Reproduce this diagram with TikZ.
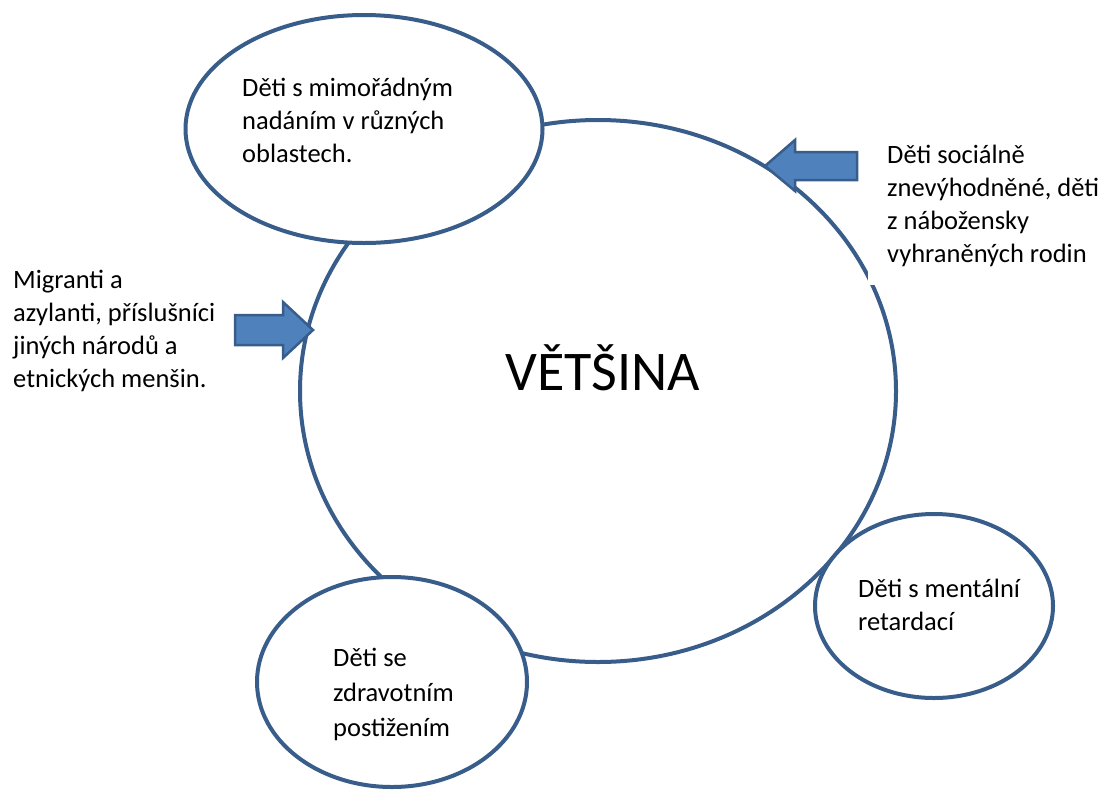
\documentclass[tikz,border=0pt]{standalone}
\usepackage{fontspec}
\setmainfont{Carlito}
\usetikzlibrary{shapes.geometric}
\definecolor{ringblue}{HTML}{385D8A}
\definecolor{arrowblue}{HTML}{4F81BD}
\begin{document}
\begin{tikzpicture}[x=1pt,y=-1pt,
  ring/.style={ellipse, draw=ringblue, line width=4pt, fill=white, inner sep=0pt},
  blockarrow/.style={draw=ringblue, line width=2.5pt, fill=arrowblue, line join=miter},
  lbl/.style={font=\fontsize{26.5}{33}\selectfont, align=left, inner sep=0pt, anchor=base west, text=black}]
\useasboundingbox (0,0) rectangle (1102,790);
\node[ring, minimum width=596pt, minimum height=542pt] (major) at (598,391) {};
\node[ring, minimum width=357pt, minimum height=228pt] (gifted) at (364,129) {};
\node[ring, minimum width=270pt, minimum height=210pt] (health) at (392,682) {};
\node[ring, minimum width=238pt, minimum height=184pt] (mental) at (934,606) {};
\node[font=\fontsize{56}{60}\selectfont, anchor=base, inner sep=0pt] (vetsina) at (603,390) {VĚTŠINA};
\draw[blockarrow] (857,152) -- (795,152) -- (795,140) -- (765,166) -- (795,191) -- (795,180) -- (857,180) -- cycle;
\draw[blockarrow] (235,315) -- (283,315) -- (283,302) -- (313,330) -- (283,358) -- (283,345) -- (235,345) -- cycle;
\node[lbl] (tgifted) at (242,162) {Děti s mimořádným\\nadáním v různých\\oblastech.};
\node[lbl, fill=white, inner sep=19pt] (tsocial) at (868,262) {Děti sociálně\\znevýhodněné, děti\\z nábožensky\\vyhraněných rodin};
\node[lbl] (tmigr) at (13,387) {Migranti a\\azylanti, příslušníci\\jiných národů a\\etnických menšin.};
\node[lbl] (tmental) at (858,630) {Děti s mentální\\retardací};
\node[lbl, font=\fontsize{26.5}{35}\selectfont] (thealth) at (333,736) {Děti se\\zdravotním\\postižením};
\end{tikzpicture}
\end{document}
